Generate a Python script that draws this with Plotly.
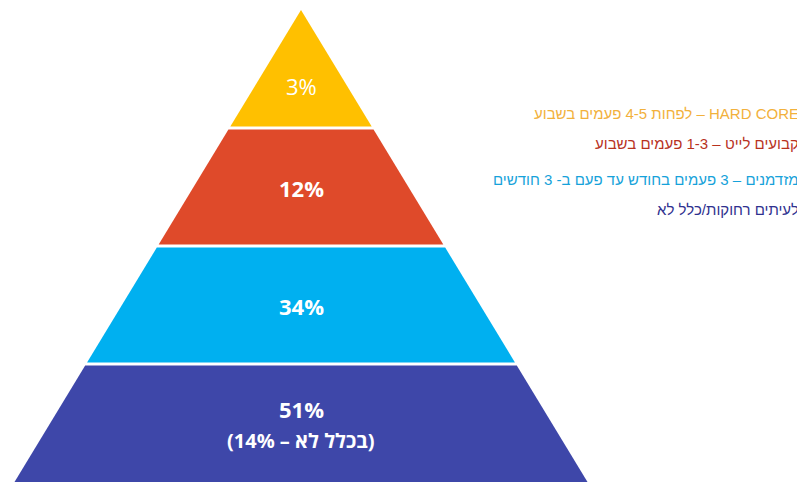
import plotly.graph_objects as go

# ---- data ----
levels = [3, 2, 1, 0]                       # band index from bottom (top band first)
values = ["3%", "12%", "34%", "51%"]
sub_labels = ["", "", "", "(בכלל לא – 14%)"]
legend_texts = [
    "HARD CORE – לפחות 4-5 פעמים בשבוע",
    "קבועים לייט – 1-3 פעמים בשבוע",
    "מזדמנים – 3 פעמים בחודש עד פעם ב- 3 חודשים",
    "לעיתים רחוקות/כלל לא",
]
band_colors = ["#FFC000", "#DF4A2A", "#00B0F0", "#3E47A9"]
legend_colors = ["#F2B13C", "#B8321E", "#16A2DA", "#2F318F"]

# ---- geometry (in data units) ----
N = 4                 # apex height
slope = 0.607         # half-width per unit of height below apex
gap = 0.013           # half of separator thickness

RLE, PDF = "\u202B", "\u202C"

# the page body has an 8px margin; plot sized so it ends at the window edge
OFF = 8
W, H = 805 - OFF, 484 - OFF
px = 118.0            # pixels per unit
apex_top = 10 - OFF   # pixel row of apex inside plot
cx = 301 - OFF        # pixel column of centre inside plot


def half_width(h):
    return (N - h) * slope

fig = go.Figure()
for lvl, val, sub, col in zip(levels, values, sub_labels, band_colors):
    y0 = lvl + (gap if lvl > 0 else 0)
    y1 = lvl + 1 - (gap if lvl + 1 < N else 0)
    w0, w1 = half_width(y0), half_width(y1)
    fig.add_trace(go.Scatter(
        x=[-w0, w0, w1, -w1, -w0], y=[y0, y0, y1, y1, y0],
        mode="lines", fill="toself", fillcolor=col,
        line=dict(width=0, color=col), hoverinfo="skip", showlegend=False))
    top = lvl + 1 == N
    ly = lvl + (0.36 if top else 0.49) + (0.13 if sub else 0)
    fig.add_annotation(x=0, y=ly, text=val, showarrow=False,
                       font=dict(family="Open Sans", size=22, color="white",
                                 weight="normal" if top else "bold"))
    if sub:
        fig.add_annotation(x=0, y=lvl + 0.35, text=RLE + sub + PDF, showarrow=False,
                           font=dict(family="Open Sans", size=20, color="white",
                                     weight="bold"))

legend_y = [113, 143, 179, 209]   # pixel rows of legend lines (window coords)
for txt, col, py in zip(legend_texts, legend_colors, legend_y):
    fig.add_annotation(xref="paper", yref="paper", x=(801 - OFF) / W,
                       y=1 - (py - OFF) / H,
                       xanchor="right", yanchor="middle",
                       text=RLE + txt + PDF, showarrow=False,
                       font=dict(family="Liberation Sans", size=15, color=col))

top_units = N + apex_top / px
fig.update_layout(
    width=W, height=H, margin=dict(l=0, r=0, t=0, b=0),
    paper_bgcolor="white", plot_bgcolor="white",
    xaxis=dict(range=[-cx / px, (W - cx) / px], visible=False, fixedrange=True),
    yaxis=dict(range=[top_units - H / px, top_units], visible=False, fixedrange=True),
)
fig.write_html("out.html")
